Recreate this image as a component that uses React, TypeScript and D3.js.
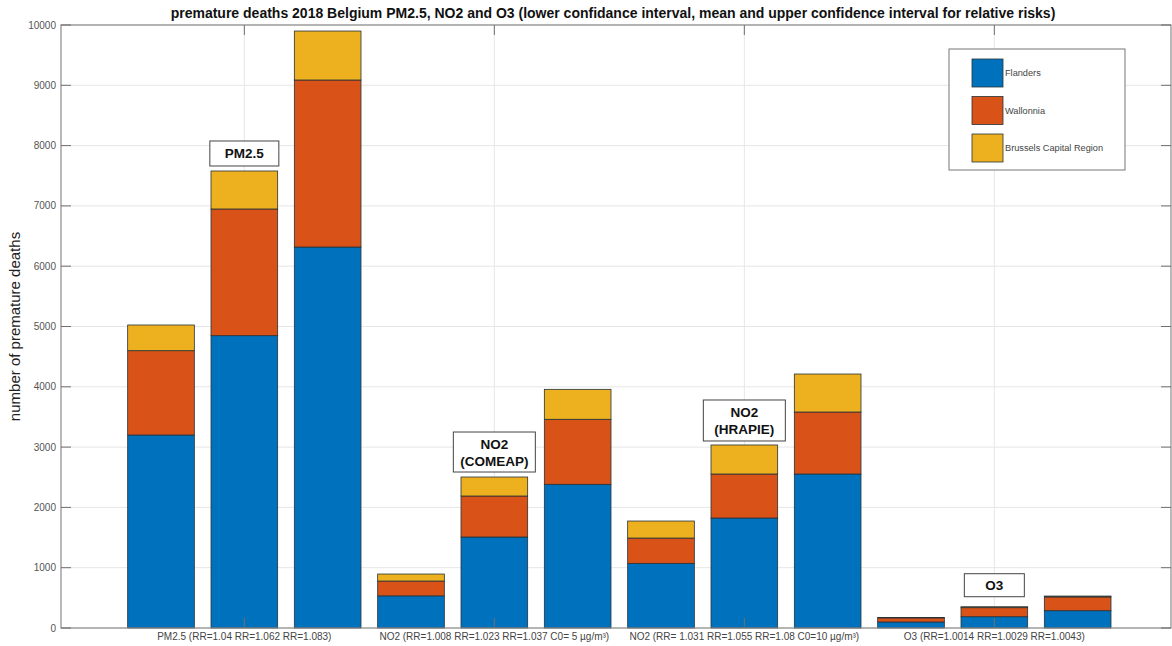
import React from "react";
import * as d3 from "d3";

// Premature deaths per region, one entry per bar (lower CI, mean, upper CI for each pollutant)
const regions = ["Flanders", "Wallonnia", "Brussels Capital Region"];
const flanders = [3201, 4848, 6318, 533, 1509, 2383, 1072, 1824, 2554, 100, 187, 287];
const wallonia = [1398, 2101, 2770, 246, 680, 1078, 420, 730, 1028, 68, 150, 228];
const brussels = [426, 630, 812, 116, 315, 497, 282, 481, 630, 7, 16, 15];
const regionColors = ["#0072BD", "#D95319", "#EDB120"];

// x tick labels sit under the middle bar of each group of three
const tickBars = [2, 5, 8, 11];
const tickLabels = [
  "PM2.5 (RR=1.04 RR=1.062 RR=1.083)",
  "NO2 (RR=1.008 RR=1.023 RR=1.037 C0= 5 µg/m³)",
  "NO2 (RR= 1.031 RR=1.055 RR=1.08 C0=10 µg/m³)",
  "O3 (RR=1.0014 RR=1.0029 RR=1.0043)",
];
const yTicks = [0, 1000, 2000, 3000, 4000, 5000, 6000, 7000, 8000, 9000, 10000];

// Group annotations, placed over the middle bar of each group
const noteBars = [2, 5, 8, 11];
const noteLines = [["PM2.5"], ["NO2", "(COMEAP)"], ["NO2", "(HRAPIE)"], ["O3"]];

const title =
  "premature deaths 2018 Belgium PM2.5, NO2 and O3 (lower confidance interval, mean and upper confidence interval for relative risks)";

const W = 1172;
const H = 646;
const left = 61;
const right = 1171;
const top = 25;
const bottom = 628;
const FONT = "'Liberation Sans', Arial, Helvetica, sans-serif";

export default function App() {
  const x = d3.scaleLinear().domain([-0.2, 13.12]).range([left, right]);
  const y = d3.scaleLinear().domain([0, 10000]).range([bottom, top]);
  const barW = (x(1) - x(0)) * 0.8;

  const rows = flanders.map((_, i) => ({
    bar: i + 1,
    Flanders: flanders[i],
    Wallonnia: wallonia[i],
    "Brussels Capital Region": brussels[i],
  }));
  const stacked = d3.stack<any>().keys(regions)(rows);

  const noteSize = [
    { w: 69, h: 25, gap: 5 },
    { w: 82, h: 40, gap: 5 },
    { w: 82, h: 41, gap: 4 },
    { w: 60, h: 23, gap: 10 },
  ];

  return (
    <svg
      width={W}
      height={H}
      style={{ position: "absolute", left: 0, top: 0, background: "#fff" }}
      fontFamily={FONT}
    >
      {/* grid */}
      {yTicks.map((t) => (
        <line key={"gy" + t} x1={left} x2={right} y1={y(t)} y2={y(t)} stroke="#e6e6e6" strokeWidth={1} />
      ))}
      {tickBars.map((b) => (
        <line key={"gx" + b} x1={x(b)} x2={x(b)} y1={top} y2={bottom} stroke="#e6e6e6" strokeWidth={1} />
      ))}

      {/* stacked bars */}
      {stacked.map((layer, li) => (
        <g key={layer.key}>
          {layer.map((d, i) => (
            <rect
              key={i}
              x={x(rows[i].bar) - barW / 2}
              y={y(d[1])}
              width={barW}
              height={y(d[0]) - y(d[1])}
              fill={regionColors[li]}
              stroke="#263238"
              strokeWidth={0.8}
            />
          ))}
        </g>
      ))}

      {/* axes box */}
      <rect x={left} y={top} width={right - left} height={bottom - top} fill="none" stroke="#8a8a8a" strokeWidth={1.2} />
      {yTicks.map((t) => (
        <g key={"ty" + t}>
          <line x1={left} x2={left + 10} y1={y(t)} y2={y(t)} stroke="#6f6f6f" />
          <line x1={right - 10} x2={right} y1={y(t)} y2={y(t)} stroke="#6f6f6f" />
          <text x={left - 5} y={y(t) + 3.5} textAnchor="end" fontSize={10} fill="#555">
            {t}
          </text>
        </g>
      ))}
      {tickBars.map((b, i) => (
        <g key={"tx" + b}>
          <line x1={x(b)} x2={x(b)} y1={bottom} y2={bottom - 10} stroke="#6f6f6f" />
          <line x1={x(b)} x2={x(b)} y1={top} y2={top + 10} stroke="#6f6f6f" />
          <text x={x(b)} y={bottom + 12} textAnchor="middle" fontSize={10} fill="#444">
            {tickLabels[i]}
          </text>
        </g>
      ))}

      {/* title and axis label */}
      <text x={613} y={18} textAnchor="middle" fontSize={14} fontWeight="bold" fill="#111">
        {title}
      </text>
      <text
        transform={`translate(20, ${(top + bottom) / 2}) rotate(-90)`}
        textAnchor="middle"
        fontSize={15}
        fill="#222"
      >
        number of premature deaths
      </text>

      {/* group annotations */}
      {noteBars.map((b, i) => {
        const total = flanders[b - 1] + wallonia[b - 1] + brussels[b - 1];
        const s = noteSize[i];
        const bx = x(b) - s.w / 2;
        const by = y(total) - s.gap - s.h;
        const lines = noteLines[i];
        return (
          <g key={"n" + b}>
            <rect x={bx} y={by} width={s.w} height={s.h} fill="#fff" stroke="#444" strokeWidth={1} />
            {lines.map((ln, j) => (
              <text
                key={j}
                x={x(b)}
                y={by + s.h / 2 + 5 + (j - (lines.length - 1) / 2) * 17}
                textAnchor="middle"
                fontSize={13.5}
                fontWeight="bold"
                fill="#111"
              >
                {ln}
              </text>
            ))}
          </g>
        );
      })}

      {/* legend */}
      <g>
        <rect x={949} y={49} width={176} height={121} fill="#fff" stroke="#777" strokeWidth={1} />
        {regions.map((r, i) => (
          <g key={r}>
            <rect x={972} y={59 + i * 37.5} width={31} height={28} fill={regionColors[i]} stroke="#263238" strokeWidth={0.8} />
            <text x={1005} y={76 + i * 37.5} fontSize={9.2} fill="#444">
              {r}
            </text>
          </g>
        ))}
      </g>
    </svg>
  );
}
